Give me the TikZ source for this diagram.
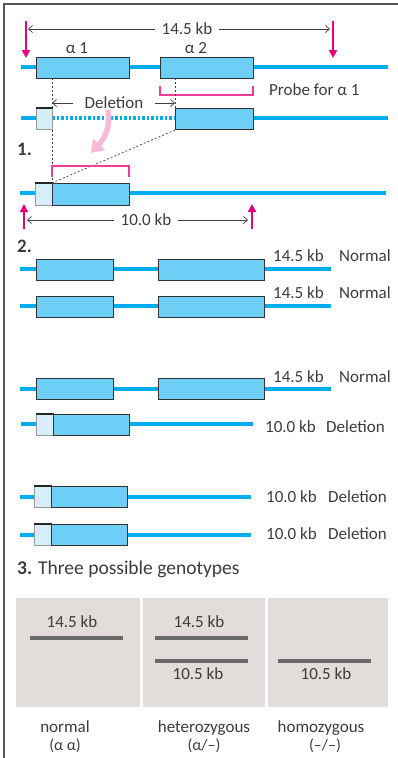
\documentclass[tikz,border=0pt]{standalone}
\usepackage{fontspec}
\setmainfont{Carlito}
\usetikzlibrary{arrows.meta}
\definecolor{gline}{HTML}{00AEEF}
\definecolor{gbox}{HTML}{6DCFF6}
\definecolor{glight}{HTML}{D6EEFA}
\definecolor{mag}{HTML}{E6007E}
\definecolor{probe}{HTML}{EE3D96}
\definecolor{pinkarr}{HTML}{F6B9D6}
\definecolor{txt}{HTML}{3C3C3C}
\definecolor{panel}{HTML}{E2DDDA}
\definecolor{band}{HTML}{6A6A6A}
\definecolor{framec}{HTML}{555555}
\begin{document}
\begin{tikzpicture}[x=1pt,y=-1pt,
  every node/.style={text=txt, font=\fontsize{17}{19}\selectfont, inner sep=0pt},
  dna/.style={gline, line width=4.5pt},
  dnadash/.style={gline, line width=4.5pt, dash pattern=on 2.5pt off 2pt},
  genebox/.style={draw=black!80, fill=gbox, line width=0.9pt, inner sep=0pt, anchor=north west},
  lightbox/.style={draw=black!40, fill=glight, line width=0.9pt, inner sep=0pt, anchor=north west},
  topedge/.style={black!85, line width=1.3pt},
  guide/.style={black!75, line width=0.7pt, dash pattern=on 2pt off 2pt},
  dim/.style={black!75, line width=0.7pt, -{Straight Barb[length=4pt,width=7pt]}},
  dimlbl/.style={inner xsep=6pt},
  cut/.style={mag, line width=2pt, -{Triangle[length=8pt,width=8pt]}},
  bracket/.style={probe, line width=1.1pt},
  gelpanel/.style={fill=panel, inner sep=0pt, anchor=north west},
  gel/.style={band, line width=4pt},
  lbl/.style={anchor=base west},
  clbl/.style={anchor=base},
  numlbl/.style={anchor=base west, font=\fontsize{19}{21}\selectfont\bfseries},
]
\useasboundingbox (0,0) rectangle (398,758);
% frame
\draw[framec, line width=1.5pt] (398,4) -- (4,4) -- (4,758);

% ---------- normal chromosome ----------
\draw[dna] (21,67) -- (388,67);
\node[genebox, minimum width=93pt, minimum height=21pt] (a1) at (36,57) {};
\node[genebox, minimum width=93pt, minimum height=21pt] (a2) at (160,57) {};
\node[clbl] (la1) at (77,53) {α 1};
\node[clbl] (la2) at (196,53) {α 2};
\coordinate (cutA) at (26,21);
\coordinate (cutAe) at (26,58);
\coordinate (cutB) at (333,21);
\coordinate (cutBe) at (333,58);
\draw[cut] (cutA) -- (cutAe);
\draw[cut] (cutB) -- (cutBe);
\node[dimlbl] (d145) at (187,29) {14.5 kb};
\coordinate (d145L) at (28,29);
\coordinate (d145R) at (330,29);
\draw[dim] (d145.west) -- (d145L);
\draw[dim] (d145.east) -- (d145R);
\draw[bracket] (160,86) -- (160,95) -- (253,95) -- (253,86);
\node[lbl] (probe) at (269,95) {Probe for α 1};

% guides
\draw[guide] (52,78) -- (52,108);
\draw[guide] (175,78) -- (175,108);

% ---------- deletion row ----------
\draw[dna] (21,118) -- (36,118);
\draw[dnadash] (52,118) -- (175,118);
\draw[dna] (253,118) -- (388,118);
\node[lightbox, minimum width=16pt, minimum height=21pt] (dl) at (36,108) {};
\draw[topedge] (dl.north west) -- (dl.north east);
\node[genebox, minimum width=78pt, minimum height=21pt] (db) at (175,108) {};
\node[inner xsep=12pt] (del) at (114,103) {Deletion};
\coordinate (delL) at (52,103);
\coordinate (delR) at (175,103);
\draw[dim] (del.west) -- (delL);
\draw[dim] (del.east) -- (delR);
\draw[pinkarr, line width=5.5pt, -{Triangle[length=12pt,width=16pt]}] (108,110) .. controls (111,128) and (104,139) .. (91,153);

\node[numlbl] (n1) at (17,155) {1.};
\draw[guide] (52,130) -- (52,183);
\draw[guide] (175,130) -- (52,183);
\draw[bracket] (52,177) -- (52,166) -- (129,166) -- (129,177);

% ---------- resulting chromosome ----------
\draw[dna] (20,193) -- (386,193);
\node[lightbox, minimum width=17pt, minimum height=22pt] (rl) at (35,183) {};
\draw[topedge] (rl.north west) -- (rl.north east);
\node[genebox, minimum width=77pt, minimum height=22pt] (rb) at (52,183) {};
\coordinate (cutC) at (24,229);
\coordinate (cutCe) at (24,204);
\coordinate (cutD) at (252,229);
\coordinate (cutDe) at (252,204);
\draw[cut] (cutC) -- (cutCe);
\draw[cut] (cutD) -- (cutDe);
\node[dimlbl] (d100) at (146,220) {10.0 kb};
\coordinate (d100L) at (27,220);
\coordinate (d100R) at (248,220);
\draw[dim] (d100.west) -- (d100L);
\draw[dim] (d100.east) -- (d100R);

% ---------- section 2 ----------
\node[numlbl] (n2) at (17,252) {2.};
% row A
\draw[dna] (20,269) -- (331,269);
\node[genebox, minimum width=77pt, minimum height=21pt] (A1) at (36,259) {};
\node[genebox, minimum width=106pt, minimum height=21pt] (A2) at (158,259) {};
\node[lbl] (Akb) at (273,261) {14.5 kb};
\node[lbl] (At) at (339,261) {Normal};
% row B
\draw[dna] (20,306) -- (331,306);
\node[genebox, minimum width=77pt, minimum height=21pt] (B1) at (36,296) {};
\node[genebox, minimum width=106pt, minimum height=21pt] (B2) at (158,296) {};
\node[lbl] (Bkb) at (273,298) {14.5 kb};
\node[lbl] (Bt) at (339,298) {Normal};
% row C
\draw[dna] (20,389) -- (331,389);
\node[genebox, minimum width=77pt, minimum height=21pt] (C1) at (36,378) {};
\node[genebox, minimum width=106pt, minimum height=21pt] (C2) at (158,378) {};
\node[lbl] (Ckb) at (273,382) {14.5 kb};
\node[lbl] (Ct) at (339,382) {Normal};
% row D
\draw[dna] (21,424) -- (253,424);
\node[lightbox, minimum width=17pt, minimum height=21pt] (D1) at (36,414) {};
\draw[topedge] (D1.north west) -- (D1.north east);
\node[genebox, minimum width=76pt, minimum height=21pt] (D2) at (53,414) {};
\node[lbl] (Dkb) at (265,432) {10.0 kb};
\node[lbl] (Dt) at (326,432) {Deletion};
% row E
\draw[dna] (20,497) -- (251,497);
\node[lightbox, minimum width=17pt, minimum height=21pt] (E1) at (34,486) {};
\draw[topedge] (E1.north west) -- (E1.north east);
\node[genebox, minimum width=76pt, minimum height=21pt] (E2) at (51,486) {};
\node[lbl] (Ekb) at (266,502) {10.0 kb};
\node[lbl] (Et) at (328,502) {Deletion};
% row F
\draw[dna] (20,535) -- (251,535);
\node[lightbox, minimum width=17pt, minimum height=21pt] (F1) at (34,524) {};
\draw[topedge] (F1.north west) -- (F1.north east);
\node[genebox, minimum width=76pt, minimum height=21pt] (F2) at (51,524) {};
\node[lbl] (Fkb) at (266,539) {10.0 kb};
\node[lbl] (Ft) at (328,539) {Deletion};

% ---------- section 3 ----------
\node[anchor=base west, font=\fontsize{19.5}{21}\selectfont] (n3) at (17,574) {\textbf{3.} Three possible genotypes};
\node[gelpanel, minimum width=124pt, minimum height=109pt] (P1) at (16,598) {};
\node[gelpanel, minimum width=122pt, minimum height=109pt] (P2) at (143,598) {};
\node[gelpanel, minimum width=120pt, minimum height=109pt] (P3) at (268,598) {};
\draw[gel] (30,638) -- (123,638);
\draw[gel] (155,638) -- (248,638);
\draw[gel] (155,661) -- (248,661);
\draw[gel] (278,661) -- (371,661);
\node[clbl] (g1a) at (72,627) {14.5 kb};
\node[clbl] (g2a) at (199,627) {14.5 kb};
\node[clbl] (g2b) at (198,679) {10.5 kb};
\node[clbl] (g3b) at (326,679) {10.5 kb};
\node[clbl] (t1) at (65,732) {normal};
\node[clbl, font=\fontsize{16}{18}\selectfont] (t1b) at (65,750) {(α α)};
\node[clbl] (t2) at (204,732) {heterozygous};
\node[clbl, font=\fontsize{16}{18}\selectfont] (t2b) at (204,750) {(α/–)};
\node[clbl] (t3) at (321,732) {homozygous};
\node[clbl, font=\fontsize{16}{18}\selectfont] (t3b) at (325,750) {(–/–)};
\end{tikzpicture}
\end{document}
